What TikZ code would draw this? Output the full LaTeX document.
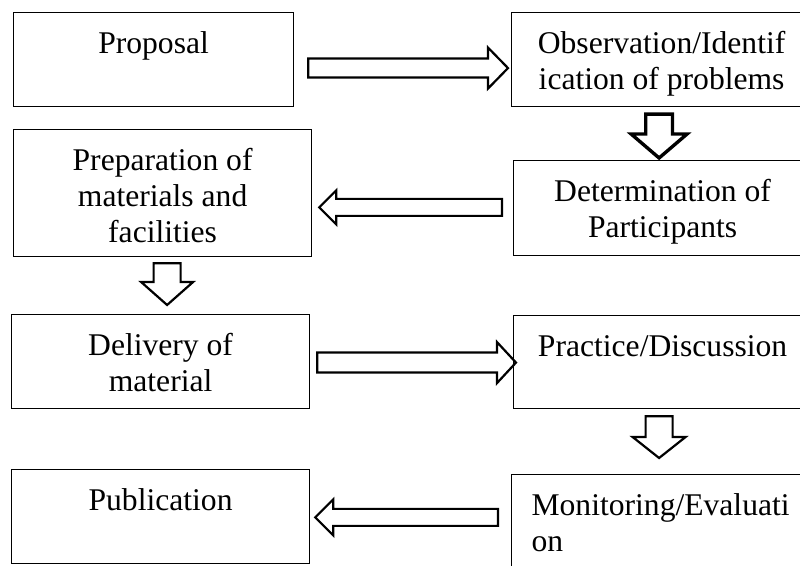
\documentclass[tikz,border=0pt]{standalone}
\usepackage{fontspec}
\setmainfont{Liberation Serif}
\usetikzlibrary{calc}

\newcommand{\stagetxt}[4][\centering]{%
  \parbox[t][#3][t]{#2}{#1\rule{0pt}{20.5pt}#4}
}
\newcommand{\hblock}[6][]{%
  \draw[#1] let \p1=#2, \p2=#3, \n1={\x2-sign(\x2-\x1)*#6} in
    (\x1,\y1+#4) -- (\n1,\y1+#4) -- (\n1,\y1+#5) -- (\x2,\y1)
    -- (\n1,\y1-#5) -- (\n1,\y1-#4) -- (\x1,\y1-#4) -- cycle;
}
\newcommand{\vblock}[6][]{%
  \draw[#1] let \p1=#2, \p2=#3, \n1={\y2-sign(\y2-\y1)*#6} in
    (\x1+#4,\y1) -- (\x1+#4,\n1) -- (\x1+#5,\n1) -- (\x1,\y2)
    -- (\x1-#5,\n1) -- (\x1-#4,\n1) -- (\x1-#4,\y1) -- cycle;
}

\begin{document}
\begin{tikzpicture}[x=1pt,y=1pt]

%
% Styles
%
\tikzstyle{stage} = [rectangle,draw,line width=0.6pt,inner xsep=10pt,inner ysep=0pt,
  anchor=north west,font=\fontsize{15.8}{18}\selectfont]
\tikzstyle{blk} = [draw,line width=1.1pt,line join=miter]

\useasboundingbox (0,0) rectangle (400,283);
\clip (0,0) rectangle (400,283);
\fill[white] (0,0) rectangle (400,283);

\node[stage] (prop)  at (6.5,277)   {\stagetxt{120pt}{47pt}{Proposal}};
\node[stage] (obs)   at (255.5,277) {\stagetxt{130pt}{47pt}{Observation/Identif\\ication of problems}};
\node[stage] (prep)  at (6.5,218.5) {\stagetxt{129pt}{63.5pt}{Preparation of\\materials and\\facilities}};
\node[stage] (det)   at (256.5,203) {\stagetxt{129pt}{47.5pt}{Determination of\\Participants}};
\node[stage] (deliv) at (5.5,126)   {\stagetxt{129pt}{47pt}{Delivery of\\material}};
\node[stage] (prac)  at (256.5,125.5) {\stagetxt{129pt}{46.5pt}{Practice/Discussion}};
\node[stage] (pub)   at (5.5,48.5)  {\stagetxt{129pt}{47pt}{Publication}};
\node[stage] (mon)   at (255.5,46)  {\stagetxt[\raggedright]{130pt}{48pt}{Monitoring/Evaluati\\on}};

\hblock[blk]{($(prop.east)+(7,-4.25)$)}{($(obs.west)+(-1.5,0)$)}{4.75}{10.25}{10}
\vblock[blk,line width=1.7pt]{($(obs.south)+(-1.25,-3.5)$)}{($(det.north)+(0,1)$)}{6.7}{14}{12}
\hblock[blk]{($(det.west)+(-5.5,0.35)$)}{($(prep.east)+(3.5,0)$)}{4.25}{8.5}{8.5}
\vblock[blk]{($(prep.south)+(2.25,-3)$)}{($(deliv.north)+(0,4.5)$)}{6.75}{13}{11.5}
\hblock[blk]{($(deliv.east)+(3.5,-0.5)$)}{($(prac.west)+(1.5,0)$)}{5}{10.25}{9.5}
\vblock[blk]{($(prac.south)+(-1.75,-3.5)$)}{($(mon.north)+(0,8)$)}{6.75}{13.25}{10.5}
\hblock[blk]{($(mon.west)+(-6.5,2.6)$)}{($(pub.east)+(2.5,0)$)}{4.25}{9}{9}

\end{tikzpicture}
\end{document}
